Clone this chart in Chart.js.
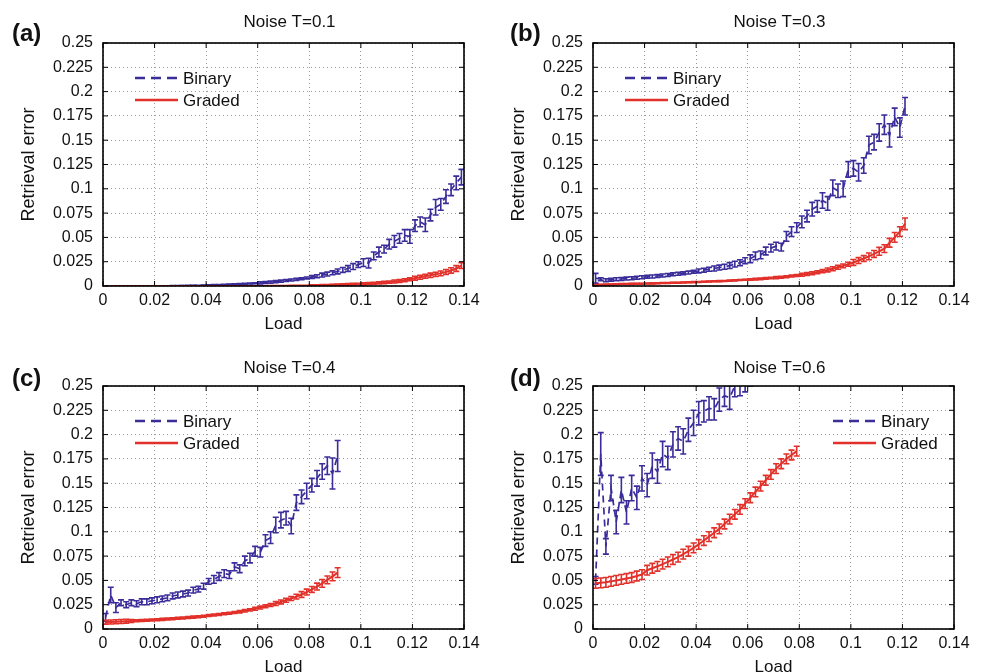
<!DOCTYPE html>
<html>
<head>
<meta charset="utf-8">
<script src="https://cdn.jsdelivr.net/npm/chart.js@4.4.1/dist/chart.umd.min.js"></script>
<style>
  body { margin: 0; background: #fff; width: 989px; height: 672px; overflow: hidden; position: relative; }
  canvas { position: absolute; }
</style>
</head>
<body>
<canvas id="panelA" width="494" height="336" style="left:0px;top:0px"></canvas>
<canvas id="panelB" width="494" height="336" style="left:490px;top:0px"></canvas>
<canvas id="panelC" width="494" height="336" style="left:0px;top:343px"></canvas>
<canvas id="panelD" width="494" height="336" style="left:490px;top:343px"></canvas>
<script>
// load values (x), shared by all panels
var loads = [0.001, 0.003, 0.005, 0.007, 0.009, 0.011, 0.013, 0.015, 0.017, 0.019,
  0.021, 0.023, 0.025, 0.027, 0.029, 0.031, 0.033, 0.035, 0.037, 0.039,
  0.041, 0.043, 0.045, 0.047, 0.049, 0.051, 0.053, 0.055, 0.057, 0.059,
  0.061, 0.063, 0.065, 0.067, 0.069, 0.071, 0.073, 0.075, 0.077, 0.079,
  0.081, 0.083, 0.085, 0.087, 0.089, 0.091, 0.093, 0.095, 0.097, 0.099,
  0.101, 0.103, 0.105, 0.107, 0.109, 0.111, 0.113, 0.115, 0.117, 0.119,
  0.121, 0.123, 0.125, 0.127, 0.129, 0.131, 0.133, 0.135, 0.137, 0.139]

var xTickLabels = ['0', '0.02', '0.04', '0.06', '0.08', '0.1', '0.12', '0.14']
var yTickLabels = ['0', '0.025', '0.05', '0.075', '0.1', '0.125', '0.15', '0.175', '0.2', '0.225', '0.25']
var seriesNames = ['Binary', 'Graded']
var panelTitles = ['Noise T=0.1', 'Noise T=0.3', 'Noise T=0.4', 'Noise T=0.6']
var panelLetters = ['(a)', '(b)', '(c)', '(d)']

// (a) T=0.1
var binaryA = [0, 0, 0, 0, 0, 0, 0, 0, 0, 0,
  0.0001, 0.0001, 0.0001, 0.0002, 0.0002, 0.0003, 0.0004, 0.0005, 0.0006, 0.0007,
  0.0008, 0.001, 0.0011, 0.0013, 0.0015, 0.0017, 0.0019, 0.0022, 0.0025, 0.0028,
  0.0032, 0.0036, 0.004, 0.0045, 0.005, 0.0056, 0.0062, 0.0068, 0.0075, 0.0083,
  0.0092, 0.0101, 0.0112, 0.0123, 0.0136, 0.015, 0.0165, 0.018, 0.02, 0.022,
  0.024, 0.0235, 0.031, 0.035, 0.038, 0.043, 0.046, 0.049, 0.052, 0.051,
  0.062, 0.066, 0.063, 0.073, 0.081, 0.084, 0.092, 0.099, 0.106, 0.112]
var binaryErrA = [0, 0, 0, 0, 0, 0, 0, 0, 0, 0,
  0.0002, 0.0002, 0.0002, 0.0002, 0.0002, 0.0002, 0.0002, 0.0002, 0.0002, 0.0002,
  0.0005, 0.0005, 0.0005, 0.0005, 0.0005, 0.0005, 0.0005, 0.0005, 0.0005, 0.0005,
  0.001, 0.001, 0.001, 0.001, 0.001, 0.001, 0.001, 0.001, 0.001, 0.001,
  0.0015, 0.0015, 0.002, 0.002, 0.002, 0.0025, 0.0025, 0.003, 0.003, 0.003,
  0.004, 0.005, 0.004, 0.005, 0.004, 0.005, 0.006, 0.005, 0.006, 0.007,
  0.006, 0.005, 0.007, 0.006, 0.008, 0.006, 0.007, 0.006, 0.007, 0.008]
var gradedA = [0, 0, 0, 0, 0, 0, 0, 0, 0, 0,
  0, 0, 0, 0, 0, 0, 0, 0, 0, 0,
  0, 0, 0, 0, 0, 0, 0, 0, 0, 0,
  0.0001, 0.0001, 0.0002, 0.0002, 0.0003, 0.0003, 0.0004, 0.0004, 0.0005, 0.0006,
  0.0007, 0.0008, 0.0009, 0.001, 0.0012, 0.0013, 0.0015, 0.0017, 0.0019, 0.0021,
  0.0022, 0.0025, 0.0028, 0.0032, 0.0036, 0.004, 0.0046, 0.0052, 0.0059, 0.0069,
  0.008, 0.009, 0.010, 0.011, 0.012, 0.013, 0.0145, 0.016, 0.018, 0.021]
var gradedErrA = [0, 0, 0, 0, 0, 0, 0, 0, 0, 0,
  0, 0, 0, 0, 0, 0, 0, 0, 0, 0,
  0, 0, 0, 0, 0, 0, 0, 0, 0, 0,
  0, 0, 0, 0, 0, 0, 0, 0, 0, 0,
  0.0005, 0.0005, 0.0005, 0.0005, 0.0005, 0.0008, 0.0008, 0.0008, 0.0008, 0.0008,
  0.001, 0.001, 0.001, 0.0012, 0.0012, 0.0012, 0.0015, 0.0015, 0.0015, 0.0015,
  0.002, 0.002, 0.002, 0.0022, 0.0022, 0.0025, 0.0025, 0.0028, 0.003, 0.003]

// (b) T=0.3
var binaryB = [0.008, 0.007, 0.006, 0.0065, 0.007, 0.0072, 0.0076, 0.008, 0.0085, 0.009,
  0.0094, 0.0098, 0.0103, 0.0108, 0.0114, 0.012, 0.0125, 0.013, 0.0138, 0.0146,
  0.0155, 0.0163, 0.0172, 0.018, 0.019, 0.0198, 0.021, 0.0225, 0.024, 0.026,
  0.028, 0.031, 0.032, 0.036, 0.039, 0.041, 0.04, 0.051, 0.056, 0.06,
  0.066, 0.072, 0.079, 0.082, 0.088, 0.085, 0.101, 0.098, 0.1, 0.12,
  0.121, 0.117, 0.124, 0.145, 0.148, 0.158, 0.166, 0.155, 0.174, 0.163,
  0.185]
var binaryErrB = [0.005, 0.0015, 0.0015, 0.0015, 0.0015, 0.0015, 0.0015, 0.0015, 0.0015, 0.0015,
  0.0015, 0.0015, 0.0015, 0.0015, 0.0015, 0.0015, 0.0015, 0.0015, 0.0015, 0.0015,
  0.002, 0.002, 0.002, 0.0025, 0.0025, 0.0025, 0.003, 0.003, 0.003, 0.003,
  0.004, 0.004, 0.004, 0.004, 0.004, 0.004, 0.004, 0.005, 0.005, 0.005,
  0.006, 0.006, 0.007, 0.006, 0.008, 0.007, 0.008, 0.007, 0.008, 0.008,
  0.008, 0.009, 0.008, 0.009, 0.008, 0.009, 0.01, 0.012, 0.009, 0.01,
  0.009]
var gradedB = [0.001, 0.0012, 0.0014, 0.0016, 0.0018, 0.002, 0.0021, 0.0022, 0.0023, 0.0024,
  0.0026, 0.0027, 0.0028, 0.003, 0.0031, 0.0033, 0.0034, 0.0036, 0.0038, 0.004,
  0.0042, 0.0044, 0.0046, 0.0048, 0.005, 0.0052, 0.0055, 0.0058, 0.0061, 0.0064,
  0.0067, 0.007, 0.0074, 0.0078, 0.0082, 0.0086, 0.0091, 0.0096, 0.0102, 0.0108,
  0.0115, 0.0123, 0.0132, 0.0142, 0.0153, 0.0165, 0.0178, 0.0192, 0.0207, 0.0224,
  0.0242, 0.0262, 0.0283, 0.0305, 0.033, 0.0357, 0.0385, 0.0445, 0.05, 0.056,
  0.064]
var gradedErrB = [0.0005, 0.0005, 0.0005, 0.0005, 0.0005, 0.0005, 0.0005, 0.0005, 0.0005, 0.0005,
  0.0005, 0.0005, 0.0005, 0.0005, 0.0005, 0.0005, 0.0005, 0.0005, 0.0005, 0.0005,
  0.0005, 0.0005, 0.0005, 0.0005, 0.0005, 0.0005, 0.0005, 0.0005, 0.0005, 0.0005,
  0.0008, 0.0008, 0.0008, 0.0008, 0.0008, 0.001, 0.001, 0.001, 0.001, 0.001,
  0.0015, 0.0015, 0.0015, 0.0015, 0.0015, 0.002, 0.002, 0.002, 0.002, 0.002,
  0.003, 0.003, 0.003, 0.0035, 0.0035, 0.004, 0.004, 0.0045, 0.005, 0.005,
  0.006]

// (c) T=0.4
var binaryC = [0.012, 0.035, 0.022, 0.027, 0.025, 0.027, 0.026, 0.028, 0.028, 0.029,
  0.03, 0.031, 0.032, 0.034, 0.035, 0.036, 0.037, 0.04, 0.041, 0.044,
  0.049, 0.051, 0.054, 0.057, 0.056, 0.064, 0.062, 0.07, 0.073, 0.08,
  0.079, 0.091, 0.094, 0.107, 0.112, 0.114, 0.106, 0.13, 0.136, 0.142,
  0.148, 0.155, 0.162, 0.168, 0.16, 0.178]
var binaryErrC = [0.004, 0.008, 0.005, 0.003, 0.003, 0.003, 0.003, 0.003, 0.003, 0.003,
  0.003, 0.003, 0.003, 0.003, 0.003, 0.003, 0.003, 0.003, 0.003, 0.003,
  0.003, 0.004, 0.004, 0.004, 0.004, 0.004, 0.004, 0.005, 0.005, 0.005,
  0.005, 0.006, 0.006, 0.008, 0.008, 0.007, 0.008, 0.008, 0.007, 0.008,
  0.007, 0.008, 0.008, 0.009, 0.016, 0.016]
var gradedC = [0.007, 0.0072, 0.0075, 0.0077, 0.008, 0.0082, 0.0085, 0.0088, 0.009, 0.0093,
  0.0096, 0.0099, 0.0102, 0.0106, 0.011, 0.0114, 0.0118, 0.0122, 0.0127, 0.0132,
  0.0138, 0.0144, 0.015, 0.0156, 0.0163, 0.017, 0.0178, 0.0187, 0.0197, 0.0208,
  0.022, 0.0233, 0.0247, 0.0262, 0.0278, 0.0295, 0.0313, 0.0333, 0.0355, 0.038,
  0.0407, 0.0437, 0.047, 0.0505, 0.0542, 0.058]
var gradedErrC = [0.002, 0.002, 0.002, 0.002, 0.002, 0.0015, 0.001, 0.001, 0.001, 0.001,
  0.001, 0.001, 0.001, 0.001, 0.001, 0.001, 0.001, 0.001, 0.001, 0.001,
  0.001, 0.001, 0.001, 0.001, 0.001, 0.001, 0.0012, 0.0012, 0.0012, 0.0015,
  0.0015, 0.0015, 0.0015, 0.002, 0.002, 0.002, 0.002, 0.0025, 0.003, 0.003,
  0.003, 0.0035, 0.004, 0.004, 0.0045, 0.005]

// (d) T=0.6
var binaryD = [0.05, 0.18, 0.085, 0.145, 0.11, 0.143, 0.12, 0.145, 0.135, 0.155,
  0.148, 0.168, 0.162, 0.18, 0.176, 0.19, 0.196, 0.193, 0.205, 0.212,
  0.222, 0.224, 0.227, 0.226, 0.236, 0.24, 0.238, 0.25, 0.252, 0.255,
  0.262, 0.267, 0.271, 0.276, 0.28, 0.285, 0.289, 0.293, 0.297, 0.302]
var binaryErrD = [0.004, 0.022, 0.008, 0.013, 0.012, 0.013, 0.012, 0.013, 0.012, 0.013,
  0.012, 0.013, 0.012, 0.013, 0.012, 0.013, 0.012, 0.013, 0.012, 0.013,
  0.012, 0.011, 0.012, 0.011, 0.012, 0.011, 0.012, 0.011, 0.012, 0.011,
  0.012, 0.011, 0.012, 0.011, 0.012, 0.011, 0.012, 0.011, 0.012, 0.011]
var gradedD = [0.047, 0.0475, 0.048, 0.049, 0.05, 0.051, 0.052, 0.053, 0.0545, 0.056,
  0.0605, 0.0625, 0.0645, 0.0668, 0.069, 0.0715, 0.074, 0.077, 0.08, 0.0835,
  0.087, 0.091, 0.095, 0.099, 0.103, 0.108, 0.113, 0.118, 0.123, 0.129,
  0.135, 0.141, 0.147, 0.153, 0.159, 0.165, 0.17, 0.175, 0.179, 0.183]
var gradedErrD = [0.005, 0.005, 0.005, 0.005, 0.005, 0.005, 0.005, 0.005, 0.005, 0.005,
  0.005, 0.005, 0.005, 0.005, 0.005, 0.005, 0.005, 0.005, 0.005, 0.005,
  0.005, 0.005, 0.005, 0.005, 0.005, 0.005, 0.005, 0.005, 0.005, 0.005,
  0.005, 0.005, 0.005, 0.005, 0.005, 0.005, 0.005, 0.005, 0.005, 0.005]

var blue = '#3a2d9a'
var red = '#e2302a'
var fontName = '"Liberation Sans", Arial, sans-serif'

Chart.defaults.font.family = fontName
Chart.defaults.color = '#111'

function points(ys) {
  var out = []
  for (var i = 0; i < ys.length; i++) {
    out.push({ x: loads[i], y: ys[i] })
  }
  return out
}

// error bars, frame, inner ticks, title, legend and panel letter
const extras = {
  id: 'extras',
  afterDatasetDraw(chart, args) {
    var ds = chart.data.datasets[args.index]
    if (!ds.errors) return
    var ctx = chart.ctx
    var area = chart.chartArea
    var xs = chart.scales.x
    var ys = chart.scales.y
    ctx.save()
    ctx.beginPath()
    ctx.rect(area.left, area.top, area.right - area.left, area.bottom - area.top)
    ctx.clip()
    ctx.strokeStyle = ds.borderColor
    ctx.lineWidth = 1.6
    ctx.setLineDash([])
    for (var i = 0; i < ds.data.length; i++) {
      var e = ds.errors[i]
      if (!e) continue
      var px = xs.getPixelForValue(ds.data[i].x)
      var y1 = ys.getPixelForValue(ds.data[i].y - e)
      var y2 = ys.getPixelForValue(ds.data[i].y + e)
      ctx.beginPath()
      ctx.moveTo(px, y1)
      ctx.lineTo(px, y2)
      ctx.moveTo(px - 3, y1)
      ctx.lineTo(px + 3, y1)
      ctx.moveTo(px - 3, y2)
      ctx.lineTo(px + 3, y2)
      ctx.stroke()
    }
    ctx.restore()
  },
  afterDraw(chart, args, opts) {
    var ctx = chart.ctx
    var a = chart.chartArea
    var xs = chart.scales.x
    var ys = chart.scales.y
    ctx.save()
    ctx.strokeStyle = '#000'
    ctx.lineWidth = 1
    ctx.beginPath()
    ys.ticks.forEach(function (t) {
      var y = ys.getPixelForValue(t.value)
      ctx.moveTo(a.left, y); ctx.lineTo(a.left + 5, y)
      ctx.moveTo(a.right, y); ctx.lineTo(a.right - 5, y)
    })
    xs.ticks.forEach(function (t) {
      var x = xs.getPixelForValue(t.value)
      ctx.moveTo(x, a.bottom); ctx.lineTo(x, a.bottom - 5)
      ctx.moveTo(x, a.top); ctx.lineTo(x, a.top + 5)
    })
    ctx.stroke()
    ctx.lineWidth = 1.6
    ctx.strokeRect(a.left, a.top, a.right - a.left, a.bottom - a.top)

    // panel title, centred over the plot area
    ctx.font = '17px ' + fontName
    ctx.fillStyle = '#111'
    ctx.textBaseline = 'middle'
    ctx.textAlign = 'center'
    ctx.fillText(opts.title, (a.left + a.right) / 2 + 6, opts.titleY)

    // legend
    ctx.textAlign = 'left'
    var lx = a.left + opts.legendX
    chart.data.datasets.forEach(function (ds, i) {
      var ly = a.top + opts.legendY + i * 22
      ctx.strokeStyle = ds.borderColor
      ctx.lineWidth = ds.borderWidth + 0.6
      ctx.setLineDash(ds.borderDash.length ? [10, 6] : [])
      ctx.beginPath()
      ctx.moveTo(lx, ly)
      ctx.lineTo(lx + 43, ly)
      ctx.stroke()
      ctx.setLineDash([])
      ctx.fillStyle = '#111'
      ctx.fillText(ds.label, lx + 48, ly + 1)
    })

    // panel letter
    ctx.font = 'bold 24px ' + fontName
    ctx.fillStyle = '#111'
    ctx.fillText(opts.letter, opts.letterX, opts.letterY)
    ctx.restore()
  }
}

function makePanel(id, idx, binary, binaryErr, graded, gradedErr, legendX, letterX, titleY, letterY) {
  new Chart(document.getElementById(id), {
    type: 'line',
    data: {
      datasets: [{
        label: seriesNames[0],
        data: points(binary),
        errors: binaryErr,
        borderColor: blue,
        borderWidth: 1.7,
        borderDash: [7, 5],
        pointRadius: 0,
        tension: 0,
        order: 1
      }, {
        label: seriesNames[1],
        data: points(graded),
        errors: gradedErr,
        borderColor: red,
        borderWidth: 2,
        borderDash: [],
        pointRadius: 0,
        tension: 0,
        order: 0
      }]
    },
    options: {
      responsive: false,
      animation: false,
      devicePixelRatio: 1,
      layout: { padding: { left: 0, right: 30, top: 43, bottom: 0 } },
      plugins: {
        legend: { display: false },
        tooltip: { enabled: false },
        title: { display: false },
        extras: {
          title: panelTitles[idx], titleY: titleY,
          legendX: legendX, legendY: 35,
          letter: panelLetters[idx], letterX: letterX, letterY: letterY
        }
      },
      scales: {
        x: {
          type: 'linear',
          min: 0,
          max: 0.14,
          afterFit: function (s) { s.height = 50 },
          ticks: {
            stepSize: 0.02,
            padding: 5,
            font: { size: 16 },
            color: '#111',
            maxRotation: 0,
            callback: function (v, i) { return xTickLabels[i] }
          },
          grid: { color: '#9a9a9a', lineWidth: 1, drawTicks: false },
          border: { display: false, dash: [1, 3] },
          title: { display: true, text: 'Load', font: { size: 17 }, color: '#111', padding: { top: 0, bottom: 1 } }
        },
        y: {
          min: 0,
          max: 0.25,
          afterFit: function (s) { s.width = 103 },
          ticks: {
            stepSize: 0.025,
            padding: 10,
            font: { size: 16 },
            color: '#111',
            callback: function (v, i) { return yTickLabels[i] }
          },
          grid: { color: '#9a9a9a', lineWidth: 1, drawTicks: false },
          border: { display: false, dash: [1, 3] },
          title: { display: true, text: 'Retrieval error', font: { size: 18 }, color: '#111', padding: { top: 18, bottom: 0 } }
        }
      }
    },
    plugins: [extras]
  })
}

makePanel('panelA', 0, binaryA, binaryErrA, gradedA, gradedErrA, 32, 12, 22, 34)
makePanel('panelB', 1, binaryB, binaryErrB, gradedB, gradedErrB, 32, 20, 22, 34)
makePanel('panelC', 2, binaryC, binaryErrC, gradedC, gradedErrC, 32, 12, 25, 36)
makePanel('panelD', 3, binaryD, binaryErrD, gradedD, gradedErrD, 240, 20, 25, 36)
</script>
</body>
</html>
